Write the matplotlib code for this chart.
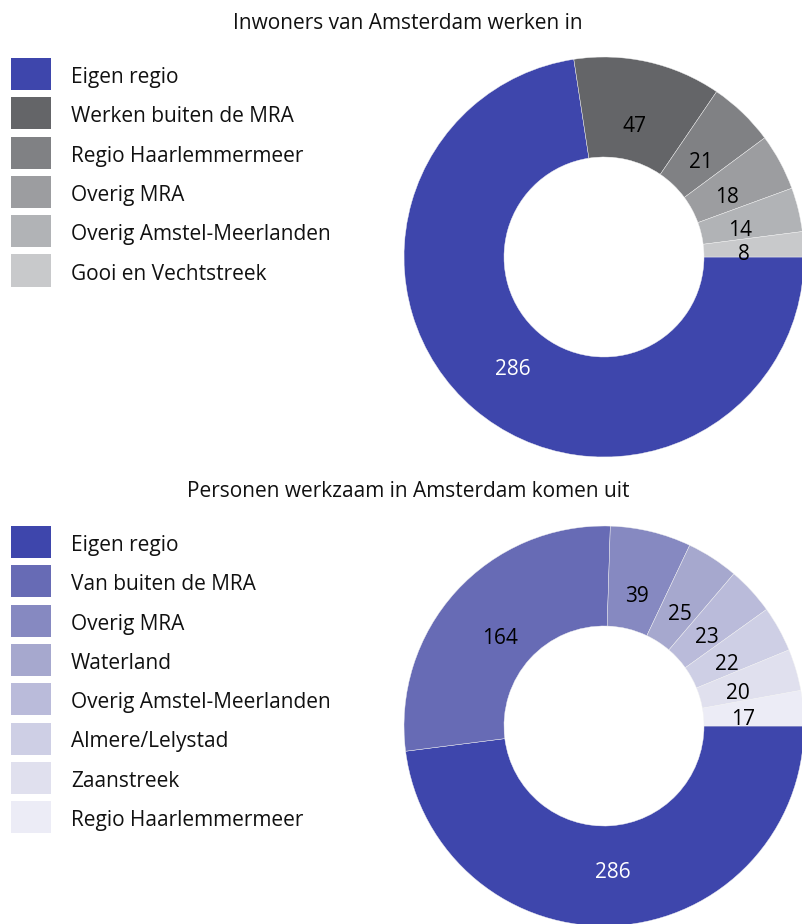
import matplotlib
matplotlib.use("Agg")
import matplotlib.pyplot as plt
from matplotlib.patches import Rectangle
import numpy as np

plt.rcParams['font.family'] = ['Open Sans', 'DejaVu Sans']

# ---- data ----
title_top = "Inwoners van Amsterdam werken in"
labels_top = ["Eigen regio", "Werken buiten de MRA", "Regio Haarlemmermeer",
              "Overig MRA", "Overig Amstel-Meerlanden", "Gooi en Vechtstreek"]
values_top = [286, 47, 21, 18, 14, 8]
colors_top = ["#3E46AC", "#646568", "#808184", "#9C9DA0", "#B1B3B6", "#C8C9CB"]
textcol_top = ["white", "black", "black", "black", "black", "black"]

title_bot = "Personen werkzaam in Amsterdam komen uit"
labels_bot = ["Eigen regio", "Van buiten de MRA", "Overig MRA", "Waterland",
              "Overig Amstel-Meerlanden", "Almere/Lelystad", "Zaanstreek",
              "Regio Haarlemmermeer"]
values_bot = [286, 164, 39, 25, 23, 22, 20, 17]
colors_bot = ["#3E46AC", "#676BB5", "#8689C1", "#A6A8CE", "#BABBDA",
              "#CECFE5", "#E0E0EE", "#ECECF6"]
textcol_bot = ["white", "black", "black", "black", "black", "black", "black", "black"]

W, H = 803, 924
fig = plt.figure(figsize=(W / 100, H / 100), dpi=100)
FS = 15


def fx(px):
    return px / W


def fy(py):
    return 1 - py / H


def donut(cx, cy, r, values, colors, textcols):
    ax = fig.add_axes([fx(cx - r), fy(cy + r), 2 * r / W, 2 * r / H])
    wedges, _ = ax.pie(values, colors=colors, startangle=0, counterclock=False,
                       radius=1, wedgeprops=dict(width=0.5, edgecolor="#f2f2f2", linewidth=0.3))
    for w, v, tc in zip(wedges, values, textcols):
        ang = np.deg2rad((w.theta1 + w.theta2) / 2)
        d = 0.7
        ax.text(d * np.cos(ang), d * np.sin(ang) - 0.02, str(v), ha="center",
                va="center_baseline", fontsize=FS, color=tc)
    ax.set_xlim(-1, 1)
    ax.set_ylim(-1, 1)
    ax.set_aspect("equal")
    ax.axis("off")


def legend(top_y, labels, colors, step=39.3):
    for i, (lab, col) in enumerate(zip(labels, colors)):
        y0 = top_y + i * step
        fig.patches.append(Rectangle((fx(11), fy(y0 + 32)), 40 / W, 32 / H,
                                     transform=fig.transFigure, facecolor=col,
                                     edgecolor="none"))
        fig.text(fx(71), fy(y0 + 25), lab, ha="left", va="baseline", fontsize=FS,
                 color="#111111")


fig.text(fx(408), fy(29), title_top, ha="center", va="baseline", fontsize=FS, color="#111111")
fig.text(fx(408), fy(497), title_bot, ha="center", va="baseline", fontsize=FS, color="#111111")

donut(604, 257, 200, values_top, colors_top, textcol_top)
donut(604, 726, 200, values_bot, colors_bot, textcol_bot)

legend(58, labels_top, colors_top)
legend(526, labels_bot, colors_bot)

fig.savefig("out.png", dpi=100)
